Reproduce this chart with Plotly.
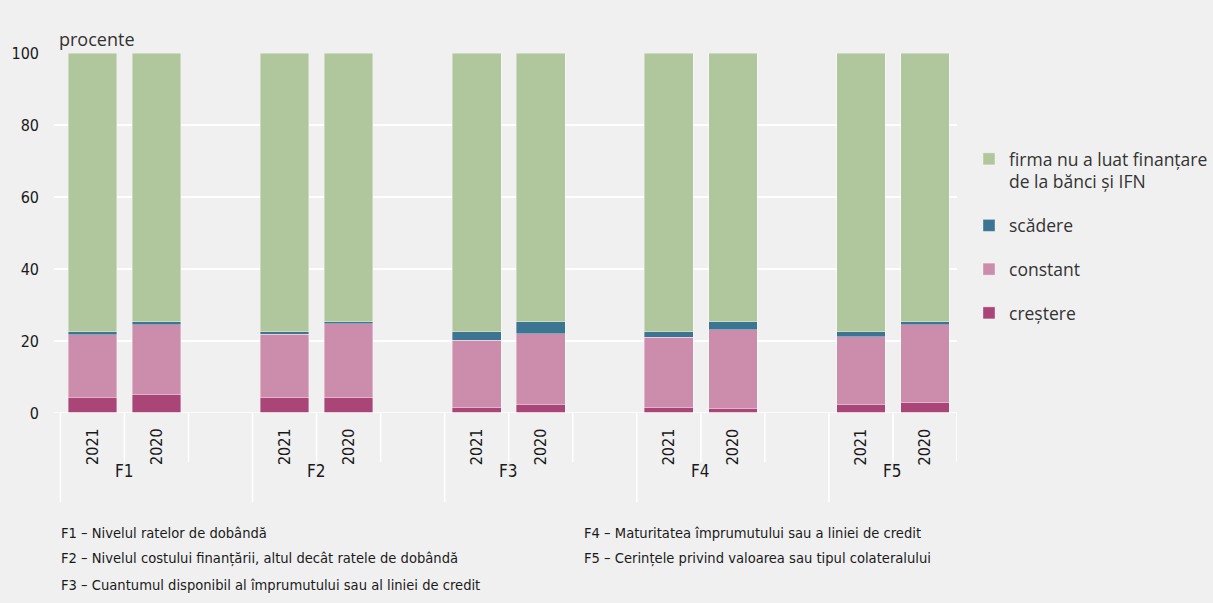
import plotly.graph_objects as go

# Survey factors and years
factors = ["F1", "F2", "F3", "F4", "F5"]
years = ["2021", "2020"]

# Shares (%) per factor, ordered 2021, 2020
crestere = [[4.4, 5.2], [4.3, 4.3], [1.5, 2.4], [1.5, 1.2], [2.3, 2.9]]
constant = [[17.3, 19.3], [17.6, 20.5], [18.7, 19.6], [19.6, 21.9], [18.9, 21.6]]
scadere = [[0.9, 0.8], [0.7, 0.6], [2.4, 3.4], [1.5, 2.3], [1.4, 0.9]]
fara_finantare = [[77.4, 74.7], [77.4, 74.6], [77.4, 74.6], [77.4, 74.6], [77.4, 74.6]]

series = [
    ("creștere", crestere, "#a94577"),
    ("constant", constant, "#cc8cac"),
    ("scădere", scadere, "#3c7591"),
    ("firma nu a luat finanțare<br>de la bănci și IFN", fara_finantare, "#b0c69c"),
]

footnotes_left = [
    "F1 – Nivelul ratelor de dobândă",
    "F2 – Nivelul costului finanțării, altul decât ratele de dobândă",
    "F3 – Cuantumul disponibil al împrumutului sau al liniei de credit",
]
footnotes_right = [
    "F4 – Maturitatea împrumutului sau a liniei de credit",
    "F5 – Cerințele privind valoarea sau tipul colateralului",
]

BG = "#f0f0f0"
NARROW = "DejaVu Sans Condensed, Liberation Sans Narrow, Roboto, sans-serif"
WIDE = "Open Sans, Noto Sans, sans-serif"
TXT = "#1a1a1a"

# each factor takes three slots: two years and a spacer (the last has no spacer)
SLOTS_PER_GROUP = 3
slot_x = []
slot_labels = []
for g, f in enumerate(factors):
    for j, yr in enumerate(years):
        slot_x.append(g * SLOTS_PER_GROUP + j)
        slot_labels.append(yr)
x_max = (len(factors) - 1) * SLOTS_PER_GROUP + len(years) - 0.5

# layout geometry (pixels)
W, H = 1213, 603
M_L, M_R, M_T, M_B = 52, 255, 53, 190
PLOT_W = W - M_L - M_R
PLOT_H = H - M_T - M_B
X_RANGE = [-0.6, x_max]


def px_to_paper_x(px):
    return (px - M_L) / PLOT_W


def px_to_paper_y(py):
    return (H - M_B - py) / PLOT_H


fig = go.Figure()
for rank, (name, vals, color) in enumerate(series):
    flat = [v for grp in vals for v in grp]
    fig.add_trace(go.Bar(
        x=slot_x, y=flat, name=name, legendgroup=name,
        legendrank=len(series) - rank,
        marker=dict(color=color, line=dict(color="rgba(255,255,255,0.45)", width=0.8)),
        width=0.76,
    ))

shapes = []
# year tick separators and factor group separators
for g in range(len(factors)):
    start = g * SLOTS_PER_GROUP - 0.5
    shapes.append(dict(type="line", xref="x", yref="paper", x0=start, x1=start,
                       y0=0, y1=px_to_paper_y(502), line=dict(color="white", width=1.6)))
    n_inner = SLOTS_PER_GROUP if g < len(factors) - 1 else len(years)
    for k in range(1, n_inner):
        xb = start + k
        shapes.append(dict(type="line", xref="x", yref="paper", x0=xb, x1=xb,
                           y0=0, y1=px_to_paper_y(462), line=dict(color="white", width=1.6)))
shapes.append(dict(type="line", xref="x", yref="paper", x0=x_max, x1=x_max,
                   y0=0, y1=px_to_paper_y(462), line=dict(color="white", width=1.6)))
# zero baseline
shapes.append(dict(type="line", xref="paper", yref="y", x0=0, x1=1, y0=0, y1=0,
                   line=dict(color="white", width=1.6)))

annotations = []
for xv, lab in zip(slot_x, slot_labels):
    annotations.append(dict(x=xv, y=0, xref="x", yref="paper", yanchor="top", yshift=-13,
                            text=lab, textangle=-90, showarrow=False,
                            font=dict(family=NARROW, size=16, color=TXT)))
for g, f in enumerate(factors):
    annotations.append(dict(x=g * SLOTS_PER_GROUP + 0.5, y=0, xref="x", yref="paper",
                            yanchor="top", yshift=-46, text=f, showarrow=False,
                            font=dict(family=NARROW, size=17, color=TXT)))
annotations.append(dict(x=px_to_paper_x(55), y=px_to_paper_y(39), xref="paper", yref="paper",
                        xanchor="left", yanchor="middle", text="procente", showarrow=False,
                        font=dict(family=WIDE, size=18, color="#333333")))
for i, t in enumerate(footnotes_left):
    annotations.append(dict(x=px_to_paper_x(57), y=px_to_paper_y(532 + 26 * i), xref="paper",
                            yref="paper", xanchor="left", yanchor="middle", text=t,
                            showarrow=False, font=dict(family=NARROW, size=14.6, color=TXT)))
for i, t in enumerate(footnotes_right):
    annotations.append(dict(x=px_to_paper_x(582), y=px_to_paper_y(532 + 26 * i), xref="paper",
                            yref="paper", xanchor="left", yanchor="middle", text=t,
                            showarrow=False, font=dict(family=NARROW, size=14.6, color=TXT)))

fig.update_layout(
    width=W, height=H,
    margin=dict(l=M_L, r=M_R, t=M_T, b=M_B),
    paper_bgcolor=BG, plot_bgcolor=BG,
    barmode="stack",
    showlegend=True,
    legend=dict(
        traceorder="grouped", xref="container", yref="container",
        x=969 / W, y=1 - 141 / H, xanchor="left", yanchor="top", valign="top",
        font=dict(family=WIDE, size=17.5, color="#333333"),
        bgcolor="rgba(0,0,0,0)", tracegroupgap=18, itemwidth=30,
    ),
    xaxis=dict(range=X_RANGE, showgrid=False, zeroline=False, showticklabels=False,
               showline=False, ticks="", fixedrange=True),
    yaxis=dict(range=[0, 100], dtick=20, showgrid=True, gridcolor="white", gridwidth=1.6,
               zeroline=False, showline=False, ticks="",
               tickfont=dict(family=NARROW, size=16, color=TXT), ticklabelstandoff=14),
    shapes=shapes,
    annotations=annotations,
)

fig.write_html("out.html")
